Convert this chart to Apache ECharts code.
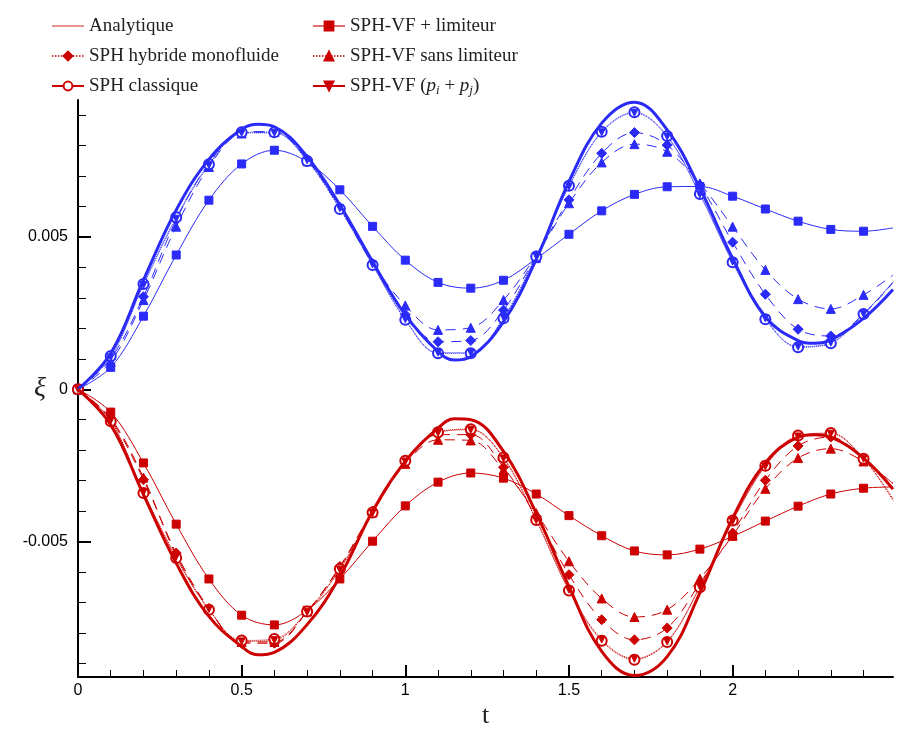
<!DOCTYPE html>
<html>
<head>
<meta charset="utf-8">
<script src="https://cdn.jsdelivr.net/npm/echarts@6/dist/echarts.min.js"></script>
<style>html,body{margin:0;padding:0;background:#fff}#c{width:905px;height:731px}</style>
</head>
<body>
<div id="c"></div>
<script>
// time of markers (every 0.1) plus the curve end (no marker)
const tMarks = [0,0.1,0.2,0.3,0.4,0.5,0.6,0.7,0.8,0.9,1.0,1.1,1.2,1.3,1.4,1.5,1.6,1.7,1.8,1.9,2.0,2.1,2.2,2.3,2.4,2.49];
const tAnalytic = [0,0.1,0.2,0.3,0.4,0.5,0.55,0.6,0.7,0.8,0.9,1.0,1.1,1.15,1.2,1.3,1.4,1.5,1.6,1.7,1.8,1.9,2.0,2.1,2.2,2.25,2.3,2.4,2.49];

// blue group
const blueAnalytique = [0,0.00118,0.00359,0.00589,0.00755,0.00854,0.00870,0.00862,0.00764,0.00605,0.00419,0.00244,0.00124,0.00096,0.00107,0.00222,0.00427,0.00682,0.00874,0.00943,0.00852,0.00660,0.00430,0.00238,0.00160,0.00151,0.00162,0.00233,0.00328];
const blueLimiteur = [0,0.00072,0.00240,0.00441,0.00621,0.00740,0.00785,0.00747,0.00655,0.00535,0.00424,0.00351,0.00332,0.00358,0.00429,0.00509,0.00586,0.00640,0.00665,0.00666,0.00634,0.00592,0.00552,0.00525,0.00519,0.00530];
const blueHybride = [0,0.00100,0.00304,0.00556,0.00742,0.00846,0.00846,0.00755,0.00595,0.00410,0.00245,0.00156,0.00160,0.00260,0.00438,0.00622,0.00775,0.00843,0.00802,0.00671,0.00483,0.00312,0.00197,0.00175,0.00247,0.00350];
const blueSansLim = [0,0.00090,0.00293,0.00534,0.00730,0.00840,0.00845,0.00755,0.00600,0.00415,0.00275,0.00195,0.00202,0.00293,0.00440,0.00611,0.00745,0.00805,0.00780,0.00676,0.00534,0.00392,0.00296,0.00264,0.00310,0.00375];
const blueClassique = [0,0.00109,0.00346,0.00565,0.00739,0.00844,0.00844,0.00750,0.00592,0.00408,0.00228,0.00118,0.00118,0.00233,0.00436,0.00668,0.00846,0.00910,0.00832,0.00641,0.00417,0.00230,0.00138,0.00151,0.00247,0.00353];
const bluePiPj = [0,0.00105,0.00342,0.00560,0.00736,0.00842,0.00842,0.00752,0.00595,0.00410,0.00230,0.00120,0.00120,0.00236,0.00438,0.00666,0.00844,0.00908,0.00830,0.00640,0.00419,0.00233,0.00140,0.00153,0.00248,0.00350];

// red group
const redAnalytique = [0,-0.00117,-0.00346,-0.00571,-0.00746,-0.00845,-0.00872,-0.00864,-0.00773,-0.00615,-0.00401,-0.00237,-0.00128,-0.00097,-0.00100,-0.00204,-0.00407,-0.00648,-0.00861,-0.00940,-0.00878,-0.00669,-0.00423,-0.00242,-0.00157,-0.00149,-0.00157,-0.00226,-0.00328];
const redLimiteur = [0,-0.00075,-0.00242,-0.00443,-0.00623,-0.00742,-0.00774,-0.00726,-0.00623,-0.00499,-0.00383,-0.00305,-0.00275,-0.00292,-0.00344,-0.00415,-0.00481,-0.00531,-0.00544,-0.00525,-0.00483,-0.00433,-0.00384,-0.00344,-0.00325,-0.00321];
const redHybride = [0,-0.00100,-0.00297,-0.00538,-0.00720,-0.00834,-0.00834,-0.00730,-0.00582,-0.00400,-0.00240,-0.00149,-0.00149,-0.00256,-0.00418,-0.00609,-0.00757,-0.00823,-0.00784,-0.00637,-0.00472,-0.00299,-0.00186,-0.00157,-0.00230,-0.00310];
const redSansLim = [0,-0.00095,-0.00290,-0.00545,-0.00720,-0.00830,-0.00830,-0.00730,-0.00585,-0.00405,-0.00245,-0.00166,-0.00168,-0.00265,-0.00407,-0.00565,-0.00687,-0.00748,-0.00724,-0.00622,-0.00480,-0.00327,-0.00226,-0.00195,-0.00237,-0.00310];
const redClassique = [0,-0.00105,-0.00341,-0.00554,-0.00724,-0.00825,-0.00820,-0.00730,-0.00590,-0.00405,-0.00235,-0.00141,-0.00131,-0.00224,-0.00429,-0.00661,-0.00826,-0.00888,-0.00830,-0.00650,-0.00431,-0.00251,-0.00152,-0.00144,-0.00228,-0.00365];
const redPiPj = [0,-0.00102,-0.00338,-0.00550,-0.00722,-0.00828,-0.00824,-0.00732,-0.00592,-0.00406,-0.00237,-0.00143,-0.00133,-0.00227,-0.00430,-0.00658,-0.00822,-0.00885,-0.00828,-0.00648,-0.00433,-0.00253,-0.00155,-0.00146,-0.00228,-0.00360];

// axis ticks / labels
const xMajor = [0,0.5,1,1.5,2];
const xMinor = [0.1,0.2,0.3,0.4,0.6,0.7,0.8,0.9,1.1,1.2,1.3,1.4,1.6,1.7,1.8,1.9,2.1,2.2,2.3,2.4];
const yMajor = [-0.005,0,0.005];
const yMinor = [-0.009,-0.008,-0.007,-0.006,-0.004,-0.003,-0.002,-0.001,0.001,0.002,0.003,0.004,0.006,0.007,0.008,0.009];

const legendLeft = ['Analytique','SPH hybride monofluide','SPH classique'];
const legendRight = ['SPH-VF + limiteur','SPH-VF sans limiteur','SPH-VF (p_i + p_j)'];

const BLUE = '#2b2bf8';
const RED = '#cc0000';

function markData(vals){
  return tMarks.map((t,i)=> i === tMarks.length-1 ? {value:[t, vals[i]], symbol:'none'} : [t, vals[i]]);
}
function analytic(name, vals, color){
  return {name, type:'line', data: tAnalytic.map((t,i)=>[t, vals[i]]), smooth:0.4, symbol:'none',
    lineStyle:{color, width:3}, itemStyle:{color}, z:5};
}
function marked(name, vals, color, symbol, size, lineType, extra){
  return Object.assign({name, type:'line', data: markData(vals), smooth:0.35, symbol, symbolSize:size,
    showSymbol:true, lineStyle:{color, width:1, type:lineType}, itemStyle:{color, borderColor:color, borderWidth:1}, z:3}, extra||{});
}
const DASH = [10,7];
const series = [
  analytic('Analytique (b)', blueAnalytique, BLUE),
  marked('SPH-VF + limiteur (b)', blueLimiteur, BLUE, 'rect', 8, 'solid'),
  marked('SPH hybride monofluide (b)', blueHybride, BLUE, 'diamond', 10, DASH),
  marked('SPH-VF sans limiteur (b)', blueSansLim, BLUE, 'triangle', 9, DASH),
  marked('SPH classique (b)', blueClassique, BLUE, 'emptyCircle', 10, 'dotted'),
  marked('SPH-VF (p_i + p_j) (b)', bluePiPj, BLUE, 'triangle', 7, 'dotted', {symbolRotate:180}),
  analytic('Analytique', redAnalytique, RED),
  marked('SPH-VF + limiteur', redLimiteur, RED, 'rect', 8, 'solid'),
  marked('SPH hybride monofluide', redHybride, RED, 'diamond', 10, DASH),
  marked('SPH-VF sans limiteur', redSansLim, RED, 'triangle', 9, DASH),
  marked('SPH classique', redClassique, RED, 'emptyCircle', 10, 'dotted'),
  marked('SPH-VF (p_i + p_j)', redPiPj, RED, 'triangle', 7, 'dotted', {symbolRotate:180}),
];

const legendStyles = {
  'Analytique': {lineStyle:{width:1.5, color:'#e07070', type:'solid'}, itemStyle:{opacity:0}},
  'SPH hybride monofluide': {lineStyle:{width:1.5, type:'dotted'}},
  'SPH classique': {lineStyle:{width:2, type:'solid'}},
  'SPH-VF + limiteur': {lineStyle:{width:2, color:'#e07070', type:'solid'}},
  'SPH-VF sans limiteur': {lineStyle:{width:1.5, type:'dotted'}},
  'SPH-VF (p_i + p_j)': {lineStyle:{width:2, type:'solid'}}
};
const legendText = {
  fontFamily:'Liberation Serif', fontSize:19, color:'#222', lineHeight:26,
  rich:{
    it:{fontFamily:'Liberation Serif', fontStyle:'italic', fontSize:19, color:'#222'},
    sub:{fontFamily:'Liberation Serif', fontStyle:'italic', fontSize:13, color:'#222', padding:[9,0,0,0]}
  }
};
function legendFmt(name){
  if (name === 'SPH-VF (p_i + p_j)') return 'SPH-VF ({it|p}{sub|i} + {it|p}{sub|j})';
  return name;
}
function mkLegend(names, left){
  return {orient:'vertical', left, top:8, itemGap:4, itemWidth:32, itemHeight:11,
    data: names.map(n=>Object.assign({name:n}, legendStyles[n])),
    textStyle: legendText, formatter: legendFmt, selectedMode:false};
}

const chart = echarts.init(document.getElementById('c'), null, {renderer:'canvas'});
chart.setOption({
  animation:false,
  backgroundColor:'#fff',
  legend:[mkLegend(legendLeft, 46), mkLegend(legendRight, 307)],
  grid:{left:78, right:12, top:100, bottom:54, containLabel:false, outerBoundsMode:'none'},
  xAxis:[
    {type:'value', min:0, max:2.49, position:'bottom',
     name:'t', nameLocation:'middle', nameGap:26, nameMoveOverlap:false,
     nameTextStyle:{fontFamily:'Liberation Serif', fontSize:26, color:'#222'},
     axisLine:{onZero:false, lineStyle:{color:'#000', width:2}},
     axisTick:{inside:true, length:12, lineStyle:{color:'#000', width:2}, customValues:xMajor},
     axisLabel:{fontFamily:'Liberation Sans', fontSize:16, color:'#000', margin:6, customValues:xMajor},
     splitLine:{show:false}},
    {type:'value', min:0, max:2.49, position:'bottom',
     axisLine:{show:false, onZero:false},
     axisTick:{inside:true, length:7, lineStyle:{color:'#000', width:1}, customValues:xMinor},
     axisLabel:{show:false}, splitLine:{show:false}}
  ],
  yAxis:[
    {type:'value', min:-0.00945, max:0.0095, position:'left',
     name:'ξ', nameLocation:'middle', nameGap:32, nameRotate:0, nameMoveOverlap:false,
     nameTextStyle:{fontFamily:'Liberation Serif', fontStyle:'italic', fontSize:28, color:'#222'},
     axisLine:{onZero:false, lineStyle:{color:'#000', width:2}},
     axisTick:{inside:true, length:13, lineStyle:{color:'#000', width:2}, customValues:yMajor},
     axisLabel:{fontFamily:'Liberation Sans', fontSize:16, color:'#000', margin:10, customValues:yMajor},
     splitLine:{show:false}},
    {type:'value', min:-0.00945, max:0.0095, position:'left',
     axisLine:{show:false, onZero:false},
     axisTick:{inside:true, length:8, lineStyle:{color:'#000', width:1}, customValues:yMinor},
     axisLabel:{show:false}, splitLine:{show:false}}
  ],
  series: series
});
</script>
</body>
</html>
